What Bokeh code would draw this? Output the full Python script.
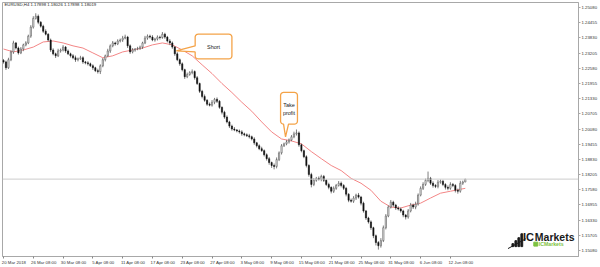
import math
from bokeh.plotting import figure
from bokeh.models import FixedTicker, Range1d, Label, Span, PrintfTickFormatter
from bokeh.embed import file_html
from bokeh.resources import INLINE

# ---------------- data (EURUSD, 8-hour candles) ----------------
header_text = "EURUSD,H4  1.17898 1.18026 1.17898 1.18019"
first_open = 1.2290
closes = [
    1.2284, 1.2260, 1.2293, 1.2325, 1.2362, 1.2341, 1.2321, 1.2337, 1.2354, 1.2362,
    1.2390, 1.2427, 1.2463, 1.2472, 1.2447, 1.2431, 1.2410, 1.2398, 1.2374, 1.2333,
    1.2317, 1.2309, 1.2329, 1.2333, 1.2345, 1.2329, 1.2317, 1.2309, 1.2301, 1.2293,
    1.2297, 1.2301, 1.2284, 1.2280, 1.2276, 1.2268, 1.2260, 1.2248, 1.2244, 1.2268,
    1.2293, 1.2309, 1.2329, 1.2350, 1.2362, 1.2358, 1.2370, 1.2374, 1.2382, 1.2386,
    1.2350, 1.2325, 1.2333, 1.2337, 1.2339, 1.2345, 1.2362, 1.2382, 1.2390, 1.2386,
    1.2374, 1.2378, 1.2386, 1.2384, 1.2398, 1.2386, 1.2370, 1.2362, 1.2345, 1.2317,
    1.2293, 1.2276, 1.2252, 1.2223, 1.2232, 1.2240, 1.2244, 1.2219, 1.2195, 1.2163,
    1.2142, 1.2126, 1.2110, 1.2106, 1.2118, 1.2130, 1.2122, 1.2097, 1.2077, 1.2057,
    1.2037, 1.2020, 1.2008, 1.2004, 1.2000, 1.1996, 1.1988, 1.1984, 1.1980, 1.1976,
    1.1967, 1.1951, 1.1939, 1.1927, 1.1919, 1.1902, 1.1886, 1.1870, 1.1858, 1.1854,
    1.1882, 1.1910, 1.1939, 1.1947, 1.1955, 1.1963, 1.1976, 1.1988, 1.1992, 1.1943,
    1.1919, 1.1894, 1.1858, 1.1821, 1.1780, 1.1797, 1.1805, 1.1801, 1.1813, 1.1797,
    1.1780, 1.1768, 1.1752, 1.1764, 1.1776, 1.1785, 1.1776, 1.1764, 1.1740, 1.1715,
    1.1711, 1.1724, 1.1736, 1.1728, 1.1703, 1.1671, 1.1642, 1.1626, 1.1602, 1.1569,
    1.1541, 1.1528, 1.1549, 1.1602, 1.1650, 1.1687, 1.1707, 1.1695, 1.1683, 1.1679,
    1.1671, 1.1654, 1.1646, 1.1671, 1.1695, 1.1687, 1.1699, 1.1736, 1.1764, 1.1780,
    1.1797, 1.1805, 1.1785, 1.1776, 1.1772, 1.1789, 1.1793, 1.1780, 1.1768, 1.1764,
    1.1780, 1.1776, 1.1756, 1.1752, 1.1785, 1.17898, 1.18019,
]
# upper / lower wick lengths in pips
wick_hi = [
    6, 5, 8, 7, 9, 4, 6, 8, 5, 7,
    6, 8, 9, 12, 7, 5, 6, 8, 4, 6,
    7, 5, 9, 6, 8, 4, 6, 5, 7, 9,
    5, 8, 6, 4, 7, 5, 6, 4, 8, 6,
    7, 5, 9, 6, 8, 5, 7, 6, 9, 10,
    5, 6, 8, 4, 7, 6, 5, 9, 7, 6,
    8, 5, 7, 6, 9, 6, 5, 8, 6, 4,
    7, 5, 6, 4, 8, 6, 9, 5, 7, 4,
    6, 8, 5, 7, 9, 6, 8, 5, 4, 6,
    7, 5, 6, 8, 4, 6, 7, 5, 6, 8,
    5, 7, 4, 6, 8, 5, 6, 7, 4, 8,
    9, 6, 7, 5, 8, 6, 7, 9, 14, 6,
    5, 4, 6, 5, 7, 9, 6, 8, 7, 6,
    5, 7, 4, 8, 6, 9, 7, 5, 6, 4,
    7, 8, 6, 9, 5, 6, 4, 5, 6, 4,
    5, 6, 10, 9, 8, 7, 9, 6, 5, 7,
    6, 5, 4, 8, 9, 6, 10, 7, 8, 9,
    7, 28, 6, 8, 5, 9, 7, 6, 5, 8,
    9, 6, 5, 7, 10, 6, 0.7,
]
wick_lo = [
    7, 9, 5, 6, 8, 6, 7, 5, 9, 6,
    5, 7, 6, 5, 8, 6, 7, 5, 6, 8,
    6, 9, 5, 7, 6, 8, 5, 7, 6, 9,
    7, 5, 8, 6, 7, 5, 9, 6, 8, 10,
    6, 7, 5, 8, 6, 7, 5, 6, 8, 5,
    9, 8, 6, 7, 5, 6, 8, 5, 7, 6,
    5, 7, 6, 8, 5, 7, 6, 9, 7, 8,
    6, 8, 7, 9, 6, 5, 7, 8, 6, 7,
    8, 6, 7, 5, 6, 8, 7, 6, 9, 7,
    6, 8, 7, 5, 6, 7, 8, 6, 5, 7,
    6, 8, 7, 6, 5, 7, 8, 9, 10, 12,
    8, 6, 7, 5, 6, 7, 5, 6, 7, 8,
    7, 6, 8, 9, 12, 7, 6, 5, 8, 7,
    6, 8, 9, 7, 6, 5, 8, 7, 9, 8,
    6, 7, 8, 6, 9, 7, 8, 7, 9, 10,
    12, 16, 8, 6, 7, 5, 6, 7, 8, 6,
    7, 9, 10, 7, 6, 8, 9, 6, 5, 7,
    6, 8, 7, 9, 7, 8, 6, 7, 9, 8,
    6, 7, 9, 10, 6, 7, 0,
]
# moving average, one reading every ma_step candles plus the last candle
ma_step = 4
ma_values = [
    1.2337, 1.2325, 1.2333, 1.2345, 1.2366, 1.2370, 1.2362, 1.2350, 1.2341, 1.2321,
    1.2301, 1.2309, 1.2325, 1.2333, 1.2341, 1.2354, 1.2362, 1.2354, 1.2333, 1.2309,
    1.2272, 1.2236, 1.2195, 1.2158, 1.2118, 1.2081, 1.2037, 1.1996, 1.1967, 1.1959,
    1.1947, 1.1915, 1.1886, 1.1858, 1.1837, 1.1805, 1.1785, 1.1756, 1.1711, 1.1687,
    1.1683, 1.1695, 1.1703, 1.1724, 1.1744, 1.1752, 1.1760, 1.1764,
]
x_tick_labels = [
    "20 Mar 2018", "26 Mar 08:00", "30 Mar 08:00", "5 Apr 08:00", "11 Apr 08:00",
    "17 Apr 08:00", "23 Apr 08:00", "27 Apr 08:00", "3 May 08:00", "9 May 08:00",
    "15 May 08:00", "21 May 08:00", "25 May 08:00", "31 May 08:00", "6 Jun 08:00",
    "12 Jun 08:00",
]
x_tick_step = 12  # candles between time labels
y_ticks = [
    1.25080, 1.24455, 1.23830, 1.23205, 1.22580, 1.21955, 1.21330, 1.20705, 1.20080,
    1.19455, 1.18830, 1.18205, 1.17580, 1.16955, 1.16330, 1.15705, 1.15080,
]
last_price = 1.18019
short_text = "Short"
tp_text = ["Take", "profit"]

# ---------------- derived series ----------------
n = len(closes)
idx = list(range(n))
opens = [first_open] + closes[:-1]
highs = [max(o, c) + w / 10000 for o, c, w in zip(opens, closes, wick_hi)]
lows = [min(o, c) - w / 10000 for o, c, w in zip(opens, closes, wick_lo)]
bull = [i for i in idx if closes[i] >= opens[i]]
bear = [i for i in idx if closes[i] < opens[i]]
ma_x = [ma_step * k for k in range(len(ma_values) - 1)] + [n - 1]

# ---------------- figure ----------------
X0, X1 = -0.4, 231.6
Y0, Y1 = 1.14836, 1.25283
p = figure(width=600, height=267, x_range=Range1d(X0, X1), y_range=Range1d(Y0, Y1),
           output_backend="svg", toolbar_location=None, y_axis_location="right",
           min_border_left=2, min_border_top=2, min_border_right=0, min_border_bottom=0)
p.background_fill_color = "white"
p.border_fill_color = "white"
p.outline_line_color = "#a8a8a8"
p.grid.visible = False

FONT = "Liberation Sans"

# helpers mapping reference-pixel positions to data space (annotations only)
def ux(px):
    return X0 + (px - 2) / 580 * (X1 - X0)

def uy(py):
    return Y1 - (py - 2) / 257 * (Y1 - Y0)

# price line
p.add_layout(Span(location=last_price, dimension="width", line_color="#cccccc", line_width=1))

# moving average
p.line(ma_x, ma_values, color="#f38686", line_width=1)

# candles
p.segment(x0=idx, y0=highs, x1=idx, y1=lows, color="#707070", line_width=0.9)
p.vbar(x=bull, width=0.5, top=[closes[i] for i in bull], bottom=[opens[i] for i in bull],
       fill_color="white", line_color="#555555", line_width=0.6)
p.vbar(x=bear, width=0.5, top=[opens[i] for i in bear], bottom=[closes[i] for i in bear],
       fill_color="#111111", line_color="#111111", line_width=0.5)

# callouts
def arc(cx, cy, r, a0, a1, steps=5):
    pts = []
    for k in range(steps + 1):
        a = math.radians(a0 + (a1 - a0) * k / steps)
        pts.append((cx + r * math.cos(a), cy + r * math.sin(a)))
    return pts

def callout(L, T, R, B, r, left_ptr=None, bottom_ptr=None):
    pts = []
    pts += arc(L + r, T + r, r, 180, 270)
    pts += arc(R - r, T + r, r, 270, 360)
    pts += arc(R - r, B - r, r, 0, 90)
    if bottom_ptr:
        pts += bottom_ptr
    pts += arc(L + r, B - r, r, 90, 180)
    if left_ptr:
        pts += left_ptr
    return [ux(a) for a, b in pts], [uy(b) for a, b in pts]

ORANGE = "#f4a348"
xs, ys = callout(196, 34, 233, 59, 3, left_ptr=[(196, 52), (177, 51), (196, 46)])
p.patch(xs, ys, fill_color="white", line_color=ORANGE, line_width=1.3)
xs, ys = callout(282, 93, 299, 125, 3, bottom_ptr=[(290, 125), (287, 138), (285, 125)])
p.patch(xs, ys, fill_color="white", line_color=ORANGE, line_width=1.3)

p.add_layout(Label(x=ux(214.5), y=uy(47), text=short_text, text_font=FONT, text_font_size="5.5px",
                   text_align="center", text_baseline="middle", text_color="#222222"))
p.add_layout(Label(x=ux(290.5), y=uy(106), text=tp_text[0], text_font=FONT, text_font_size="5.5px",
                   text_align="center", text_baseline="middle", text_color="#222222"))
p.add_layout(Label(x=ux(290.5), y=uy(114), text=tp_text[1], text_font=FONT, text_font_size="5.5px",
                   text_align="center", text_baseline="middle", text_color="#222222"))

# header
p.add_layout(Label(x=ux(4), y=uy(4.5), text=header_text, text_font=FONT, text_font_size="4.3px",
                   text_baseline="middle", text_color="#222222"))

# current price tag
p.add_layout(Label(x=ux(582.5), y=last_price, text="%.5f" % last_price, text_font=FONT,
                   text_font_size="4.3px", text_baseline="middle", text_color="white",
                   background_fill_color="black", padding=1))

# logo
logo_bars = [(515, 246, 249), (518, 243, 249), (521, 240, 249), (524, 236, 249)]
for bx, top, bot in logo_bars:
    p.quad(left=ux(bx), right=ux(bx + 1.8), top=uy(top), bottom=uy(bot), color="#1a1a1a")
p.line([ux(511), ux(529)], [uy(251), uy(241)], color="#1a1a1a", line_width=1)
p.add_layout(Label(x=ux(526), y=uy(239.5), text="IC", text_font=FONT, text_font_size="11px",
                   text_font_style="bold", text_baseline="middle", text_color="#1a1a1a"))
p.add_layout(Label(x=ux(538), y=uy(239.5), text="Markets", text_font=FONT, text_font_size="10.5px",
                   text_font_style="bold", text_baseline="middle", text_color="#1a1a1a"))
p.quad(left=ux(537), right=ux(541), top=uy(244.5), bottom=uy(248.5), color="#7cc242")
p.add_layout(Label(x=ux(542), y=uy(246.5), text="ICMarkets", text_font=FONT, text_font_size="5.2px",
                   text_font_style="bold", text_baseline="middle", text_color="#7cc242"))

# axes
ya = p.yaxis[0]
ya.ticker = FixedTicker(ticks=y_ticks)
ya.formatter = PrintfTickFormatter(format="%.5f")
ya.major_label_text_font = FONT
ya.major_label_text_font_size = "4.3px"
ya.major_label_text_color = "#333333"
ya.major_label_standoff = 1
ya.major_tick_out = 2
ya.major_tick_in = 0
ya.minor_tick_out = 0
ya.minor_tick_in = 0
ya.axis_line_color = "#a8a8a8"
ya.major_tick_line_color = "#a8a8a8"

# time axis: MT4 prints each label to the right of its tick, so the (invisible)
# major ticks carry the centred labels and the visible marks are minor ticks.
xa = p.xaxis[0]
tick_pos = [x_tick_step * k for k in range(len(x_tick_labels))]
label_shift = 4.2  # half a label width, in candles
label_pos = [t + label_shift for t in tick_pos]
xa.ticker = FixedTicker(ticks=label_pos, minor_ticks=tick_pos)
xa.major_label_overrides = {t: lab for t, lab in zip(label_pos, x_tick_labels)}
xa.major_label_text_font = FONT
xa.major_label_text_font_size = "4.3px"
xa.major_label_text_color = "#333333"
xa.major_label_standoff = 1
xa.major_tick_out = 0
xa.major_tick_in = 0
xa.minor_tick_out = 2
xa.minor_tick_in = 0
xa.minor_tick_line_color = "#888888"
xa.axis_line_color = "#a8a8a8"

open("out.html", "w").write(file_html(p, INLINE))
